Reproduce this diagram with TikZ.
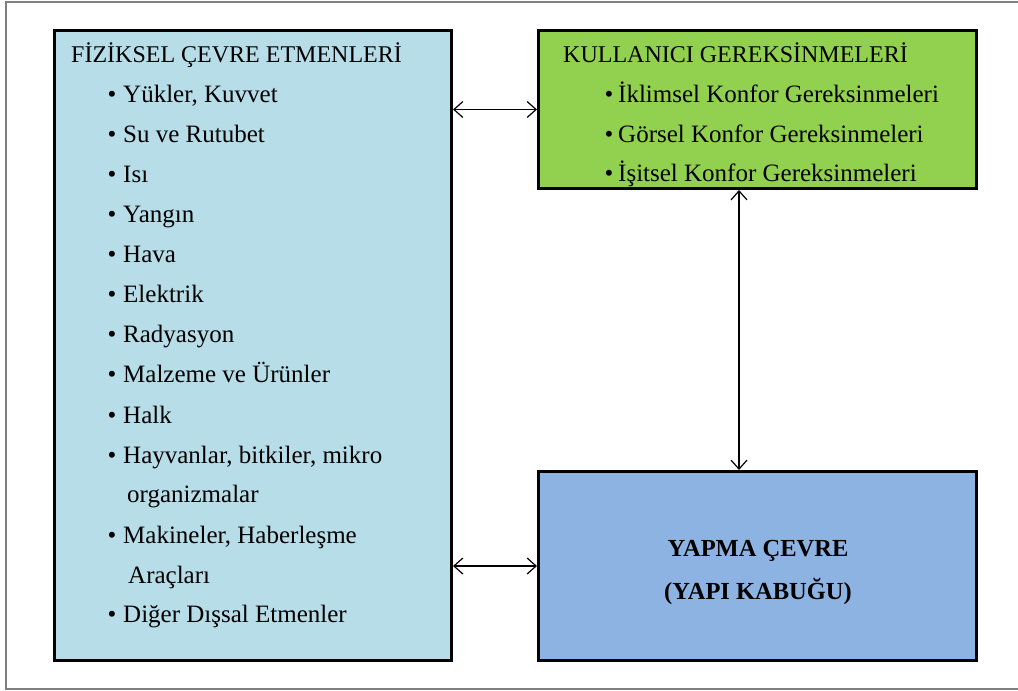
\documentclass[tikz,border=0pt]{standalone}
\usepackage{fontspec}
\setmainfont{Liberation Serif}
\usepackage{tikz}
\usetikzlibrary{arrows.meta,positioning}
\definecolor{fizblue}{HTML}{B7DDE8}
\definecolor{kulgreen}{HTML}{92D050}
\definecolor{yapblue}{HTML}{8DB3E2}
\definecolor{framegray}{HTML}{7F7F7F}

\begin{document}
\begin{tikzpicture}[x=1pt,y=-1pt]
			\tikzstyle{every node}+=[inner sep=0pt]
			\tikzstyle{box}=[draw=black, line width=3pt, rectangle, anchor=north west]
			\tikzstyle{txt}=[anchor=base west, font=\fontsize{25}{40}\selectfont]
			\tikzstyle{head}=[anchor=base west, font=\fontsize{24}{40}\selectfont]
			\tikzstyle{dot}=[anchor=base, font=\fontsize{25}{40}\selectfont]
			\tikzstyle{link}=[{Straight Barb[length=9pt,width=16pt]}-{Straight Barb[length=9pt,width=16pt]}, line width=1.2pt]
			\useasboundingbox (0,0) rectangle (1018,691);
			\draw [framegray, line width=2pt] (1020,1.5) -- (6,1.5) -- (6,689) -- (1020,689);
			\node [box, fill=fizblue, minimum width=397pt, minimum height=630pt] (fiz) at (53,29) {};
			\node [box, fill=kulgreen, minimum width=438pt, minimum height=158pt] (kul) at (537,29) {};
			\node [box, fill=yapblue, minimum width=438pt, minimum height=189pt] (yap) at (537,470) {};
			% fiziksel cevre
			\node [head] (fizt) at (71,62) {FİZİKSEL ÇEVRE ETMENLERİ};
			\node [dot] (b1) at (112,102) {•};
			\node [txt] (f1) at (123,102) {Yükler, Kuvvet};
			\node [dot] (b2) at (112,142) {•};
			\node [txt] (f2) at (123,142) {Su ve Rutubet};
			\node [dot] (b3) at (112,182) {•};
			\node [txt] (f3) at (123,182) {Isı};
			\node [dot] (b4) at (112,222) {•};
			\node [txt] (f4) at (123,222) {Yangın};
			\node [dot] (b5) at (112,262) {•};
			\node [txt] (f5) at (123,262) {Hava};
			\node [dot] (b6) at (112,302) {•};
			\node [txt] (f6) at (123,302) {Elektrik};
			\node [dot] (b7) at (112,342) {•};
			\node [txt] (f7) at (123,342) {Radyasyon};
			\node [dot] (b8) at (112,382) {•};
			\node [txt] (f8) at (123,382) {Malzeme ve Ürünler};
			\node [dot] (b9) at (112,423) {•};
			\node [txt] (f9) at (123,423) {Halk};
			\node [dot] (b10) at (112,463) {•};
			\node [txt] (f10) at (123,463) {Hayvanlar, bitkiler, mikro};
			\node [txt] (f10b) at (127,502) {organizmalar};
			\node [dot] (b11) at (112,543) {•};
			\node [txt] (f11) at (123,543) {Makineler, Haberleşme};
			\node [txt] (f11b) at (128,583) {Araçları};
			\node [dot] (b12) at (112,622) {•};
			\node [txt] (f12) at (123,622) {Diğer Dışsal Etmenler};
			% kullanici
			\node [head] (kult) at (563,62) {KULLANICI GEREKSİNMELERİ};
			\node [dot] (c1) at (609,102) {•};
			\node [txt] (k1) at (618,102) {İklimsel Konfor Gereksinmeleri};
			\node [dot] (c2) at (609,142) {•};
			\node [txt] (k2) at (618,142) {Görsel Konfor Gereksinmeleri};
			\node [dot] (c3) at (609,181) {•};
			\node [txt] (k3) at (618,181) {İşitsel Konfor Gereksinmeleri};
			% yapma cevre
			\node [dot, font=\fontsize{24.5}{40}\selectfont\bfseries] (y1) at (758,556) {YAPMA ÇEVRE};
			\node [dot, font=\fontsize{24.5}{40}\selectfont\bfseries] (y2) at (758,599) {(YAPI KABUĞU)};
			% oklar
			\draw [link] (fiz.east |- kul.west) -- (kul.west);
			\draw [link] (fiz.east |- yap.west) -- (yap.west);
			\draw [link] ([xshift=-18.5pt]kul.south) -- ([xshift=-18.5pt]yap.north);
\end{tikzpicture}
\end{document}
